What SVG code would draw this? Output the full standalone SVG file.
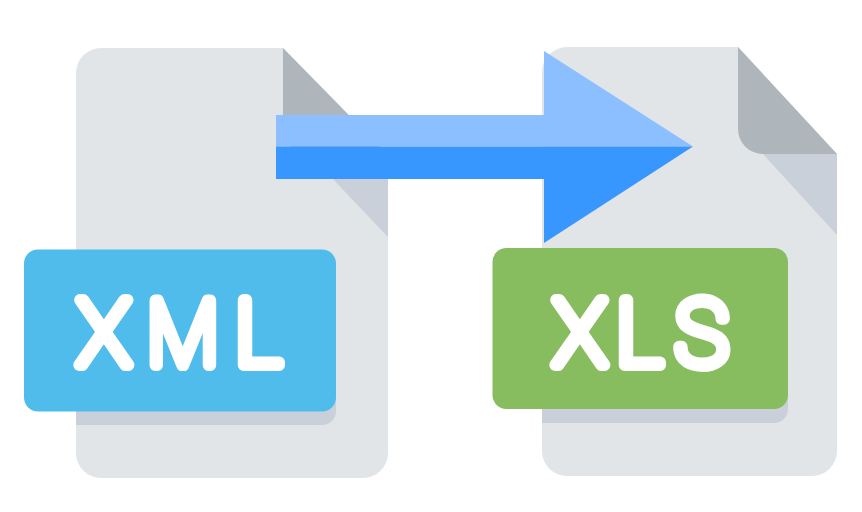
<svg xmlns="http://www.w3.org/2000/svg" width="862" height="512" viewBox="0 0 862 512">
<style>
.page{fill:#e1e5e8}.dark{fill:#aeb5bb}.light,.shadow{fill:#c9d0d9}
.label{fill:#fff;stroke:#fff;stroke-width:12;stroke-linejoin:round;font-family:Roboto,sans-serif;font-weight:100;font-size:90px}
</style>
<rect width="862" height="512" fill="#fff"/>
<g id="xml-file">
<path class="page" d="M101 48H283L388 155V453a25 25 0 0 1-25 25H101a25 25 0 0 1-25-25V73a25 25 0 0 1 25-25Z"/>
<path class="dark" d="M283 48L388 155H310a27 27 0 0 1-27-27Z"/>
<path class="light" d="M310 155H388V237Z"/>
<path class="shadow" d="M76 263H336V411a14 14 0 0 1-14 14H76Z"/>
<rect x="24" y="249.500" width="312" height="162" rx="14" fill="#50bcec"/>
<text class="label" x="77" y="365">X</text><text class="label" transform="translate(147 365) scale(.93 1)">M</text><text class="label" x="235" y="365">L</text>
</g>
<g id="xls-file">
<path class="page" d="M567 47H738L837 154V451a25 25 0 0 1-25 25H567a25 25 0 0 1-25-25V72a25 25 0 0 1 25-25Z"/>
<path class="dark" d="M738 47L837 154H763a25 25 0 0 1-25-25Z"/>
<path class="light" d="M763 154H837V235Z"/>
<path class="shadow" d="M542 262H788V409a14 14 0 0 1-14 14H542Z"/>
<rect x="492.500" y="248" width="295.500" height="161" rx="14" fill="#87bd5e"/>
<text class="label" x="553" y="365">X</text><text class="label" x="616" y="365">L</text><text class="label" x="675" y="365">S</text>
</g>
<g id="connectors">
<path fill="#8cbfff" d="M276 115H544V51L693 146.500H276Z"/>
<path fill="#3897ff" d="M276 146.500H693L544 243V179H276Z"/>
</g>
</svg>
